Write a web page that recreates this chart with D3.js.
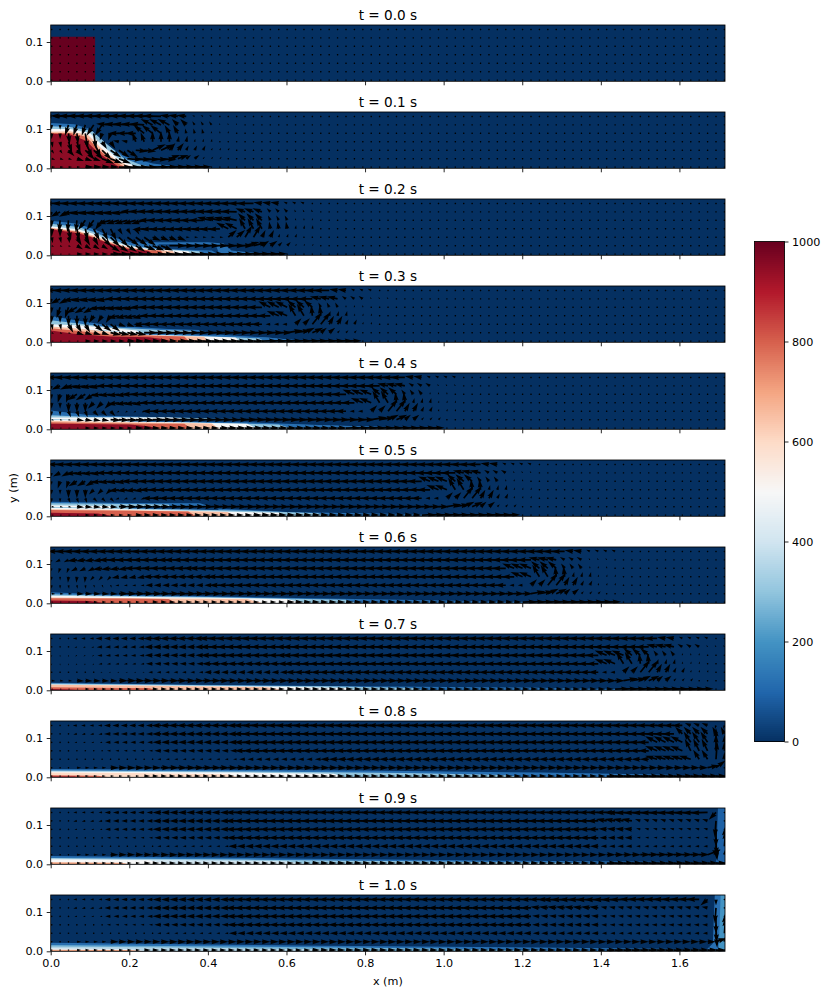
<!DOCTYPE html>
<html>
<head>
<meta charset="utf-8">
<script src="https://cdnjs.cloudflare.com/ajax/libs/d3/7.8.5/d3.min.js"></script>
<style>
  body { margin: 0; background: #fff; }
  text { font-family: "DejaVu Sans", sans-serif; fill: #000; }
</style>
</head>
<body>
<div id="chart"></div>
<script>
// Dam break snapshots: density field (kg/m3) with velocity arrows on top

var times = [0.0, 0.1, 0.2, 0.3, 0.4, 0.5, 0.6, 0.7, 0.8, 0.9, 1.0];
var xTicks = [0, 0.2, 0.4, 0.6, 0.8, 1.0, 1.2, 1.4, 1.6];
var yTicks = [0, 0.1];
var barTicks = [0, 200, 400, 600, 800, 1000];
var rdbu = ["#053061", "#2166ac", "#4393c3", "#92c5de", "#d1e5f0", "#f7f7f7", "#fddbc7", "#f4a582", "#d6604d", "#b2182b", "#67001f"];

// density: [rho, [[x, top of the layer], ...]], painted in order
var density_t00 = [[1000, [[0, 0.1135], [0.113, 0.1135], [0.113, 0]]]];
var density_t01 = [
  [120, [[0, 0.115], [0.06, 0.112], [0.1, 0.1], [0.14, 0.06], [0.19, 0.03], [0.26, 0.012], [0.36, 0]]],
  [300, [[0, 0.107], [0.05, 0.105], [0.105, 0.095], [0.145, 0.06], [0.185, 0.026], [0.225, 0.01], [0.27, 0]]],
  [500, [[0, 0.1], [0.05, 0.1], [0.1, 0.09], [0.135, 0.055], [0.175, 0.022], [0.21, 0.008], [0.24, 0]]],
  [650, [[0, 0.093], [0.05, 0.094], [0.095, 0.085], [0.13, 0.05], [0.165, 0.022], [0.195, 0.008], [0.22, 0]]],
  [800, [[0, 0.09], [0.05, 0.09], [0.09, 0.08], [0.125, 0.045], [0.155, 0.022], [0.18, 0.008], [0.2, 0]]],
  [950, [[0, 0.088], [0.05, 0.086], [0.09, 0.07], [0.12, 0.04], [0.15, 0.02], [0.17, 0.006], [0.185, 0]]]
];
var density_t02 = [
  [120, [[0, 0.088], [0.07, 0.08], [0.11, 0.066], [0.16, 0.046], [0.2, 0.033], [0.26, 0.033], [0.4, 0.033], [0.44, 0.03], [0.46, 0.012], [0.58, 0]]],
  [20, [[0.27, 0], [0.275, 0.028], [0.42, 0.027], [0.43, 0]]],
  [120, [[0.2, 0], [0.25, 0.017], [0.41, 0.012], [0.43, 0]]],
  [300, [[0, 0.08], [0.07, 0.072], [0.11, 0.059], [0.155, 0.04], [0.2, 0.026], [0.25, 0.018], [0.38, 0.01], [0.39, 0]]],
  [500, [[0, 0.074], [0.07, 0.066], [0.11, 0.054], [0.155, 0.036], [0.2, 0.023], [0.25, 0.016], [0.35, 0.01], [0.36, 0]]],
  [650, [[0, 0.07], [0.07, 0.062], [0.11, 0.05], [0.155, 0.033], [0.2, 0.02], [0.25, 0.014], [0.31, 0.011], [0.32, 0]]],
  [800, [[0, 0.068], [0.07, 0.06], [0.11, 0.046], [0.155, 0.03], [0.2, 0.018], [0.25, 0.013], [0.28, 0.012], [0.29, 0]]],
  [950, [[0, 0.066], [0.07, 0.056], [0.11, 0.044], [0.155, 0.028], [0.2, 0.015], [0.25, 0.011], [0.26, 0]]]
];
var density_t03 = [
  [120, [[0, 0.067], [0.06, 0.057], [0.15, 0.043], [0.3, 0.034], [0.38, 0.031], [0.42, 0.02], [0.55, 0.012], [0.62, 0.006], [0.8, 0]]],
  [300, [[0, 0.056], [0.06, 0.049], [0.15, 0.038], [0.28, 0.031], [0.36, 0.029], [0.38, 0]]],
  [500, [[0, 0.046], [0.08, 0.043], [0.18, 0.034], [0.22, 0.03], [0.24, 0]]],
  [20, [[0.22, 0], [0.24, 0.026], [0.38, 0.025], [0.42, 0.02], [0.43, 0]]],
  [120, [[0.22, 0], [0.24, 0.024], [0.42, 0.018], [0.55, 0.012], [0.62, 0.006], [0.63, 0]]],
  [300, [[0, 0.035], [0.15, 0.03], [0.24, 0.02], [0.35, 0.017], [0.53, 0.01], [0.55, 0]]],
  [500, [[0, 0.034], [0.15, 0.028], [0.24, 0.019], [0.47, 0.012], [0.485, 0]]],
  [650, [[0, 0.04], [0.06, 0.036], [0.15, 0.027], [0.25, 0.018], [0.39, 0.014], [0.405, 0]]],
  [800, [[0, 0.036], [0.06, 0.03], [0.15, 0.02], [0.25, 0.017], [0.34, 0.015], [0.355, 0]]],
  [950, [[0, 0.03], [0.06, 0.022], [0.15, 0.015], [0.25, 0.013], [0.29, 0.008], [0.31, 0]]]
];
var density_t04 = [
  [120, [[0, 0.048], [0.1, 0.036], [0.3, 0.03], [0.48, 0.027], [0.5, 0.015], [0.85, 0.006], [1.0, 0]]],
  [300, [[0, 0.036], [0.1, 0.031], [0.3, 0.03], [0.4, 0.028], [0.42, 0]]],
  [500, [[0, 0.03], [0.3, 0.03], [0.33, 0.028], [0.34, 0]]],
  [20, [[0.14, 0], [0.2, 0.022], [0.3, 0.025], [0.5, 0.025], [0.52, 0]]],
  [120, [[0.14, 0], [0.2, 0.02], [0.5, 0.018], [0.7, 0.01], [0.85, 0.006], [0.86, 0]]],
  [300, [[0, 0.026], [0.2, 0.02], [0.35, 0.018], [0.58, 0.012], [0.62, 0]]],
  [500, [[0, 0.024], [0.2, 0.019], [0.3, 0.018], [0.5, 0.014], [0.53, 0]]],
  [650, [[0, 0.022], [0.2, 0.018], [0.41, 0.015], [0.43, 0]]],
  [800, [[0, 0.018], [0.2, 0.015], [0.34, 0.014], [0.36, 0]]],
  [950, [[0, 0.014], [0.2, 0.012], [0.25, 0.008], [0.28, 0]]]
];
var density_t05 = [
  [120, [[0, 0.037], [0.2, 0.034], [0.38, 0.033], [0.42, 0.02], [0.6, 0.011], [0.9, 0.006], [1.22, 0]]],
  [300, [[0, 0.033], [0.2, 0.031], [0.3, 0.03], [0.32, 0]]],
  [500, [[0, 0.028], [0.15, 0.026], [0.17, 0]]],
  [20, [[0.18, 0], [0.2, 0.024], [0.42, 0.026], [0.44, 0]]],
  [120, [[0.18, 0], [0.2, 0.021], [0.42, 0.016], [0.6, 0.011], [0.61, 0]]],
  [300, [[0, 0.024], [0.2, 0.02], [0.5, 0.014], [0.68, 0.008], [0.7, 0]]],
  [500, [[0, 0.022], [0.15, 0.019], [0.4, 0.013], [0.58, 0.009], [0.6, 0]]],
  [650, [[0, 0.018], [0.2, 0.016], [0.45, 0.011], [0.47, 0]]],
  [800, [[0, 0.016], [0.2, 0.014], [0.35, 0.012], [0.37, 0]]],
  [950, [[0, 0.009], [0.12, 0.007], [0.16, 0]]]
];
var density_t06 = [
  [120, [[0, 0.028], [0.15, 0.022], [0.4, 0.018], [0.7, 0.012], [1.0, 0.007], [1.43, 0]]],
  [300, [[0, 0.023], [0.15, 0.019], [0.4, 0.016], [0.75, 0.009], [0.78, 0]]],
  [500, [[0, 0.019], [0.15, 0.017], [0.4, 0.014], [0.6, 0.011], [0.65, 0]]],
  [650, [[0, 0.0145], [0.2, 0.013], [0.5, 0.011], [0.54, 0]]],
  [800, [[0, 0.0127], [0.2, 0.012], [0.3, 0.011], [0.32, 0]]],
  [950, [[0, 0.007], [0.1, 0.006], [0.14, 0]]]
];
var density_t07 = [
  [120, [[0, 0.019], [0.3, 0.015], [0.7, 0.011], [1.2, 0.007], [1.65, 0]]],
  [300, [[0, 0.017], [0.3, 0.014], [0.7, 0.01], [0.92, 0.006], [0.95, 0]]],
  [500, [[0, 0.015], [0.2, 0.013], [0.6, 0.009], [0.75, 0.006], [0.78, 0]]],
  [650, [[0, 0.014], [0.2, 0.012], [0.55, 0.008], [0.6, 0]]],
  [800, [[0, 0.008], [0.18, 0.006], [0.25, 0.006], [0.27, 0]]],
  [950, [[0, 0.003], [0.05, 0.002], [0.08, 0]]]
];
var density_t08 = [
  [120, [[0, 0.021], [0.8, 0.017], [1.25, 0.012], [1.5, 0.008], [1.7, 0.004], [1.716, 0.004]]],
  [300, [[0, 0.017], [0.5, 0.015], [0.9, 0.011], [1.15, 0.006], [1.2, 0]]],
  [500, [[0, 0.0145], [0.5, 0.012], [0.72, 0.009], [0.75, 0]]],
  [600, [[0, 0.012], [0.2, 0.011], [0.45, 0.008], [0.48, 0]]],
  [800, [[0, 0.005], [0.12, 0.004], [0.15, 0]]],
  [950, [[0, 0.002], [0.06, 0.002], [0.07, 0]]]
];
var density_t09 = [
  [120, [[0, 0.021], [0.6, 0.015], [1.2, 0.009], [1.68, 0.005], [1.716, 0.004]]],
  [90, [[1.693, 0], [1.698, 0.143], [1.716, 0.143]]],
  [300, [[0, 0.016], [0.5, 0.012], [0.9, 0.008], [1.3, 0.004], [1.4, 0]]],
  [400, [[0, 0.014], [0.3, 0.011], [0.6, 0.008], [0.65, 0]]],
  [500, [[0, 0.012], [0.25, 0.01], [0.3, 0]]],
  [700, [[0, 0.005], [0.18, 0.004], [0.2, 0]]]
];
var density_t10 = [
  [120, [[0, 0.022], [0.7, 0.014], [1.3, 0.009], [1.67, 0.005], [1.685, 0.02], [1.69, 0.143], [1.716, 0.143]]],
  [200, [[1.7, 0], [1.705, 0.143], [1.716, 0.143]]],
  [250, [[0, 0.016], [0.6, 0.011], [1.0, 0.007], [1.25, 0.002], [1.3, 0]]],
  [350, [[0, 0.012], [0.4, 0.009], [0.7, 0.005], [0.75, 0]]],
  [450, [[0, 0.008], [0.2, 0.006], [0.25, 0]]],
  [700, [[0, 0.004], [0.2, 0.003], [0.24, 0]]]
];

// velocity rows from the floor up, each row runs of [columns, u, v] in m/s; columns past the last run are at rest
var quiver_t00 = [[], [], [], [], [], [], []];
var quiver_t01 = [
  [[4, 0.3, 0], [4, 0.7, 0], [4, 1.1, 0], [6, 1.4, 0.03]],
  [[3, 0.3, -0.1], [3, 0.6, -0.2], [3, 1, -0.4], [5, 1.3, -0.1], [2, 0.9, 0.3], [2, 0.4, 0.3], [3, 0.15, 0.15], [3, 0.05, 0.1]],
  [[2, 0.2, -0.3], [2, 0.5, -0.5], [3, 0.8, -0.8], [3, 0.9, -0.6], [2, 1, -0.1], [2, 1.1, 0.5], [2, 0.5, 0.6], [3, 0.2, 0.4], [3, 0.1, 0.2]],
  [[2, 0.1, -0.5], [2, 0.3, -0.9], [2, 0.6, -1.3], [2, 0.4, -0.6], [2, -0.5, 0.1], [2, -0.3, 0.8], [3, 0, 0.9], [2, 0.1, 0.5], [3, 0.05, 0.25], [3, 0.02, 0.12]],
  [[2, 0, -0.5], [2, 0.1, -0.9], [2, 0.2, -1.3], [2, -0.2, -0.6], [3, -0.9, 0], [3, -0.9, 0.7], [2, -0.4, 0.7], [3, -0.1, 0.4], [3, 0, 0.2]],
  [[2, 0, -0.4], [3, -0.3, -0.9], [2, -0.6, -0.9], [5, -1.2, 0.1], [3, -1, 0.5], [2, -0.5, 0.5], [3, -0.2, 0.3], [3, -0.05, 0.15]],
  [[2, -0.6, 0], [12, -1.5, 0.05], [3, -0.8, 0.1], [3, -0.2, 0.1], [2, -0.05, 0.1]]
];
var quiver_t02 = [
  [[3, 0.2, 0], [4, 0.5, 0], [5, 0.9, 0], [8, 1.1, 0], [7, 1.4, 0.03]],
  [[3, 0.2, -0.1], [4, 0.5, -0.3], [4, 0.8, -0.5], [3, 1, -0.4], [9, 1.4, 0], [2, 1.2, 0.3], [2, 0.6, 0.4], [2, 0.3, 0.3], [3, 0.1, 0.15]],
  [[3, 0.1, -0.5], [3, 0.4, -0.7], [3, 0.8, -0.8], [3, 1, -0.7], [4, 0.7, -0.3], [5, 0.3, 0], [2, 0.7, 0.6], [2, 0.6, 1], [2, 0.3, 0.6], [3, 0.1, 0.3]],
  [[2, 0, -0.7], [3, 0.2, -1], [3, 0.5, -1], [3, 0.3, -0.5], [10, -1, -0.05], [2, -1, 0.5], [3, -0.5, 0.9], [3, -0.1, 0.6], [3, 0.05, 0.3]],
  [[1, 0, -0.6], [3, -0.1, -1], [3, -0.6, -0.8], [5, -1.1, -0.3], [7, -1.2, 0], [4, -1.2, 0.25], [3, -0.6, 0.6], [3, -0.2, 0.4], [3, 0, 0.2]],
  [[1, -0.1, -0.4], [2, -0.8, -0.4], [7, -1.3, -0.15], [13, -1.3, 0.05], [3, -0.8, 0.3], [3, -0.3, 0.3], [3, -0.1, 0.2]],
  [[1, -0.5, 0], [24, -1.4, 0], [3, -0.7, 0.1], [3, -0.3, 0.15]]
];
var quiver_t03 = [
  [[4, 0.2, 0], [5, 0.5, 0], [6, 0.7, 0], [10, 0.9, 0], [11, 1.3, 0.03]],
  [[3, 0.2, -0.1], [4, 0.6, -0.2], [4, 0.9, -0.2], [17, 1.1, 0], [2, 1.3, 0.2], [2, 0.9, 0.4], [2, 0.5, 0.4], [3, 0.2, 0.2]],
  [[2, 0.1, -0.5], [3, 0.4, -0.7], [3, 0.8, -0.6], [3, 0.6, -0.2], [15, -0.9, 0], [3, -0.4, 0], [2, 0.5, 0.5], [2, 0.8, 1], [2, 0.4, 0.7], [2, 0.2, 0.4], [2, 0.05, 0.2]],
  [[2, 0, -0.6], [3, 0, -0.9], [3, -0.4, -0.6], [4, -1, -0.2], [15, -1.1, 0], [2, -1, 0.4], [2, -0.6, 1], [2, -0.1, 0.9], [3, 0.1, 0.4], [3, 0.05, 0.2]],
  [[1, 0, -0.5], [2, -0.3, -0.9], [3, -0.9, -0.5], [5, -1.1, -0.15], [15, -1.2, 0], [3, -1, 0.5], [3, -0.7, 0.6], [3, -0.2, 0.4], [3, 0, 0.2]],
  [[1, -0.1, -0.4], [2, -0.8, -0.4], [5, -1.2, -0.15], [24, -1.2, 0], [3, -0.9, 0.2], [3, -0.35, 0.25], [3, -0.1, 0.15]],
  [[1, -0.4, 0], [33, -1.3, 0], [2, -0.7, 0.1], [3, -0.3, 0.15]]
];
var quiver_t04 = [
  [[4, 0.2, 0], [6, 0.45, 0], [10, 0.65, 0], [15, 0.8, 0], [11, 1.2, 0.03]],
  [[3, 0.2, -0.05], [4, 0.6, -0.1], [5, 0.9, -0.05], [26, 1, 0], [2, 1.3, 0.2], [2, 0.9, 0.4], [2, 0.5, 0.4], [3, 0.2, 0.2]],
  [[2, 0, -0.4], [3, 0.2, -0.5], [3, 0.4, -0.4], [4, -0.2, -0.1], [24, -0.9, 0], [2, -0.4, 0], [2, 0.5, 0.5], [2, 0.8, 1], [2, 0.4, 0.7], [2, 0.2, 0.4], [3, 0.05, 0.2]],
  [[2, 0, -0.5], [3, 0, -0.8], [3, -0.5, -0.5], [4, -1, -0.15], [25, -1.1, 0], [2, -1, 0.4], [2, -0.6, 1], [2, -0.1, 0.9], [3, 0.1, 0.4], [3, 0.05, 0.2]],
  [[1, 0, -0.4], [2, -0.2, -0.7], [3, -0.8, -0.5], [4, -1, -0.1], [26, -1.2, 0], [3, -1, 0.4], [3, -0.7, 0.6], [3, -0.3, 0.4], [3, 0, 0.2]],
  [[1, 0, -0.3], [2, -0.7, -0.3], [4, -1.1, -0.15], [33, -1.2, 0], [3, -0.9, 0.2], [3, -0.4, 0.25], [3, -0.1, 0.15]],
  [[1, -0.3, 0], [42, -1.2, 0], [2, -0.7, 0.1], [4, -0.3, 0.15]]
];
var quiver_t05 = [
  [[4, 0.2, 0], [6, 0.4, 0], [14, 0.6, 0], [20, 0.7, 0], [11, 1.2, 0.03]],
  [[3, 0.25, -0.05], [5, 0.6, -0.05], [6, 0.8, 0], [33, 0.9, 0], [2, 1.2, 0.2], [2, 0.9, 0.4], [2, 0.5, 0.4], [3, 0.2, 0.2]],
  [[2, 0, -0.35], [3, 0.15, -0.4], [3, 0.3, -0.3], [4, -0.3, -0.1], [33, -0.9, 0], [2, -0.4, 0], [2, 0.5, 0.5], [2, 0.8, 1], [2, 0.4, 0.7], [2, 0.2, 0.4], [3, 0.05, 0.2]],
  [[2, 0, -0.4], [3, 0, -0.7], [3, -0.4, -0.4], [4, -0.9, -0.1], [34, -1.1, 0], [2, -1, 0.4], [2, -0.6, 1], [2, -0.1, 0.9], [3, 0.1, 0.4], [3, 0.05, 0.2]],
  [[1, 0, -0.3], [2, -0.2, -0.6], [3, -0.7, -0.4], [4, -1, -0.1], [35, -1.2, 0], [3, -1, 0.4], [3, -0.7, 0.6], [3, -0.3, 0.4], [3, 0, 0.2]],
  [[1, 0, -0.3], [2, -0.6, -0.3], [4, -1, -0.1], [42, -1.2, 0], [3, -0.9, 0.2], [3, -0.4, 0.25], [3, -0.1, 0.15]],
  [[1, -0.3, 0], [51, -1.1, 0], [2, -0.7, 0.1], [4, -0.3, 0.15]]
];
var quiver_t06 = [
  [[4, 0.15, 0], [8, 0.35, 0], [16, 0.5, 0], [28, 0.65, 0], [11, 1.2, 0.03]],
  [[3, 0.3, -0.03], [5, 0.6, -0.03], [6, 0.8, 0], [43, 0.85, 0], [2, 1.2, 0.2], [2, 0.9, 0.4], [2, 0.5, 0.4], [3, 0.2, 0.2]],
  [[2, 0, -0.3], [3, 0.05, -0.3], [3, 0.1, -0.2], [4, -0.3, -0.05], [8, -0.6, 0], [35, -0.9, 0], [2, -0.4, 0], [2, 0.5, 0.5], [2, 0.8, 1], [2, 0.4, 0.7], [2, 0.2, 0.4], [3, 0.05, 0.2]],
  [[2, 0, -0.3], [3, -0.05, -0.5], [3, -0.3, -0.3], [4, -0.6, -0.1], [8, -0.8, 0], [36, -1.05, 0], [2, -1, 0.4], [2, -0.6, 1], [2, -0.1, 0.9], [3, 0.1, 0.4], [3, 0.05, 0.2]],
  [[1, 0, -0.25], [2, -0.15, -0.4], [3, -0.5, -0.25], [4, -0.8, -0.1], [8, -0.95, 0], [37, -1.15, 0], [3, -1, 0.4], [3, -0.7, 0.6], [3, -0.3, 0.4], [3, 0, 0.2]],
  [[1, 0, -0.2], [2, -0.4, -0.2], [4, -0.8, -0.1], [8, -1, 0], [43, -1.15, 0], [3, -0.9, 0.2], [3, -0.4, 0.25], [3, -0.1, 0.15]],
  [[1, -0.25, 0], [61, -1.1, 0], [2, -0.7, 0.1], [4, -0.3, 0.15]]
];
var quiver_t07 = [
  [[4, 0.15, 0], [8, 0.35, 0], [16, 0.5, 0], [39, 0.6, 0], [11, 1.2, 0.03]],
  [[3, 0.3, -0.02], [5, 0.6, -0.02], [6, 0.75, 0], [54, 0.8, 0], [2, 1.2, 0.2], [2, 0.9, 0.4], [2, 0.5, 0.4], [3, 0.2, 0.2]],
  [[3, 0, -0.1], [3, -0.03, -0.1], [6, -0.15, -0.03], [7, -0.35, 0], [10, -0.6, 0], [37, -0.85, 0], [2, -0.4, 0], [2, 0.5, 0.5], [2, 0.8, 1], [2, 0.4, 0.7], [2, 0.2, 0.4], [3, 0.05, 0.2]],
  [[3, 0, -0.15], [3, -0.1, -0.12], [6, -0.3, -0.03], [7, -0.55, 0], [10, -0.8, 0], [37, -1, 0], [2, -1, 0.4], [2, -0.6, 1], [2, -0.1, 0.9], [3, 0.1, 0.4], [3, 0.05, 0.2]],
  [[3, 0, -0.15], [3, -0.15, -0.1], [6, -0.4, -0.03], [7, -0.65, 0], [10, -0.9, 0], [37, -1.1, 0], [3, -1, 0.4], [3, -0.7, 0.6], [3, -0.3, 0.4], [3, 0, 0.2]],
  [[3, 0, -0.1], [3, -0.2, -0.1], [6, -0.45, -0.03], [7, -0.7, 0], [10, -0.95, 0], [43, -1.1, 0], [3, -0.9, 0.2], [3, -0.4, 0.25], [3, -0.1, 0.15]],
  [[3, -0.1, 0], [3, -0.35, 0], [6, -0.55, 0], [7, -0.8, 0], [54, -1.05, 0], [2, -0.7, 0.1], [4, -0.3, 0.15]]
];
var quiver_t08 = [
  [[3, 0.1, 0], [8, 0.3, 0], [20, 0.5, 0], [35, 0.6, 0], [14, 0.9, 0]],
  [[3, 0.05, 0], [4, 0.35, 0], [6, 0.7, 0], [10, 0.8, 0], [55, 0.75, 0], [1, 1, 0.2], [1, 0.8, 0.6]],
  [[3, 0, -0.05], [4, 0, -0.05], [6, -0.1, 0], [10, -0.3, 0], [10, -0.5, 0], [39, -0.75, 0], [5, -1, 0.3], [2, -0.5, 0.8], [1, 0.1, 1.5], [1, 0, 0.6]],
  [[3, 0, -0.1], [4, -0.1, -0.08], [6, -0.3, 0], [10, -0.55, 0], [49, -0.9, 0], [4, -1, 0.4], [3, -0.5, 1], [1, 0, 1.4], [1, 0, 0.8]],
  [[3, -0.03, -0.1], [4, -0.2, -0.05], [6, -0.45, 0], [10, -0.7, 0], [49, -0.95, 0], [4, -1, 0.5], [3, -0.6, 0.9], [1, 0, 1.2], [1, 0, 0.6]],
  [[3, -0.05, -0.05], [4, -0.3, -0.05], [6, -0.55, 0], [10, -0.75, 0], [52, -1, 0], [4, -0.6, 0.6], [2, -0.3, 0.6]],
  [[3, -0.1, 0], [4, -0.35, 0], [6, -0.55, 0], [10, -0.8, 0], [49, -1, 0], [4, -0.9, 0], [3, -0.5, 0.2], [2, -0.1, -0.3]]
];
var quiver_t09 = [
  [[3, 0.1, 0], [8, 0.35, 0], [20, 0.55, 0], [35, 0.65, 0], [14, 0.9, 0]],
  [[3, 0.05, 0], [4, 0.35, 0], [6, 0.65, 0], [53, 0.7, 0], [4, 0.75, 0], [8, 0.85, 0.02], [1, 1.1, 0.4], [1, 0.3, 0.5], [1, 0.05, 0.4]],
  [[3, 0, -0.05], [4, 0, -0.03], [6, -0.1, 0], [9, -0.3, 0], [44, -0.7, 0], [4, -0.5, 0], [9, -0.35, 0], [1, 0.1, -1.2], [1, 0.1, 1.3]],
  [[3, 0, -0.08], [4, -0.1, -0.05], [6, -0.3, 0], [9, -0.55, 0], [44, -0.85, 0], [4, -0.6, 0], [9, -0.3, 0.05], [1, 0.05, -1.5], [1, 0.05, 0.9]],
  [[3, -0.03, -0.08], [4, -0.2, -0.05], [6, -0.45, 0], [9, -0.7, 0], [44, -0.9, 0], [4, -0.7, 0.05], [9, -0.35, 0.1], [1, 0, -1.5], [1, 0, 0.1]],
  [[3, -0.05, -0.05], [4, -0.3, -0.05], [6, -0.5, 0], [9, -0.7, 0], [44, -0.95, 0], [4, -0.9, 0.15], [9, -0.45, 0.15], [1, -0.1, -1.4], [1, 0, -0.1]],
  [[3, -0.08, 0], [4, -0.3, 0], [6, -0.5, 0], [9, -0.7, 0], [46, -0.95, 0], [11, -1.4, -0.04], [1, -0.6, -0.6]]
];
var quiver_t10 = [
  [[3, 0.1, 0], [8, 0.35, 0], [20, 0.55, 0], [35, 0.65, 0], [14, 0.85, 0]],
  [[3, 0.05, 0], [4, 0.35, 0], [6, 0.65, 0], [9, 0.7, 0], [57, 0.7, 0], [1, 0.9, 0.3], [1, 0.05, 0.4]],
  [[3, 0, -0.05], [4, 0, -0.03], [6, -0.1, 0], [9, -0.3, 0], [36, -0.65, 0], [8, -0.55, 0], [13, -0.4, 0], [1, 0.1, -1.2], [1, 0.1, 1.3]],
  [[3, 0, -0.08], [4, -0.1, -0.05], [6, -0.3, 0], [9, -0.55, 0], [36, -0.8, 0], [8, -0.6, 0], [13, -0.45, 0], [1, 0.05, -1.5], [1, 0.05, 0.9]],
  [[3, -0.03, -0.08], [4, -0.2, -0.05], [6, -0.45, 0], [9, -0.7, 0], [36, -0.85, 0], [8, -0.6, 0.05], [13, -0.45, 0.05], [1, 0, -1.5], [1, 0, 0.1]],
  [[3, -0.05, -0.05], [4, -0.3, -0.05], [6, -0.5, 0], [9, -0.7, 0], [36, -0.9, 0], [8, -0.75, 0.1], [13, -0.5, 0.1], [1, -0.1, -1.3], [1, 0, -0.1]],
  [[3, -0.08, 0], [4, -0.3, 0], [6, -0.5, 0], [9, -0.7, 0], [38, -0.9, 0], [9, -1.15, -0.03], [9, -1.05, 0.02], [1, -0.6, -0.5], [1, 0, -0.5]]
];

var densities = [density_t00, density_t01, density_t02, density_t03, density_t04, density_t05, density_t06, density_t07, density_t08, density_t09, density_t10];
var quivers = [quiver_t00, quiver_t01, quiver_t02, quiver_t03, quiver_t04, quiver_t05, quiver_t06, quiver_t07, quiver_t08, quiver_t09, quiver_t10];

// Layout
var W = 830, H = 995;
var left = 50.7, right = 725;
var firstTop = 25, panelH = 56.3, step = 87;
var nCols = 81, dx = 0.0214, x0 = 0.0025, y0 = 0.003, dy = 0.0215;
var shaft = 1.7; // arrow shaft width, px
var tickFont = 11.2;

var x = d3.scaleLinear().domain([0, 1.716]).range([left, right]);
var y = d3.scaleLinear().domain([0, 0.1433]).range([panelH, 0]);
var speed = d3.scaleLinear().domain([0, 1]).range([0, 12]);
var color = d3.scaleLinear()
  .domain(d3.range(rdbu.length).map(function(i){ return i * 100; }))
  .range(rdbu);

var svg = d3.select("#chart").append("svg").attr("width", W).attr("height", H);

svg.append("defs").append("clipPath").attr("id", "clip")
  .append("rect").attr("x", left).attr("y", 0).attr("width", right - left).attr("height", panelH);

var area = d3.area()
  .x(function(d){ return x(d[0]); })
  .y0(y(0))
  .y1(function(d){ return y(d[1]); });

// Same outline matplotlib gives a quiver arrow: dot, shrunken wedge or full arrow
function arrowPath(len){
  var w = shaft, hl = 5 * w, hal = 4.5 * w, hw = 1.5 * w, sw = 0.5 * w;
  if(len < w){
    var r = w / 2, pts = d3.range(6).map(function(k){
      return [r * Math.cos(k * Math.PI / 3), r * Math.sin(k * Math.PI / 3)];
    });
    return "M" + pts.join("L") + "Z";
  }
  var s = 1, l = len;
  if(len < hl){ s = len / hl; l = hl; }
  var p = [[0, -sw], [l - hal, -sw], [l - hl, -hw], [l, 0], [l - hl, hw], [l - hal, sw], [0, sw]];
  return "M" + p.map(function(q){ return [q[0] * s, q[1] * s]; }).join("L") + "Z";
}

// Unpack the runs of one panel into one record per arrow
function arrowsOf(rows){
  var out = [];
  rows.forEach(function(row, j){
    var i = 0;
    row.forEach(function(run){
      for(var k = 0; k < run[0] && i < nCols; k++, i++){
        out.push({i: i, j: j, u: run[1], v: run[2]});
      }
    });
    for(; i < nCols; i++){ out.push({i: i, j: j, u: 0, v: 0}); }
  });
  return out;
}

var panels = svg.selectAll(".panel").data(times).enter().append("g")
  .attr("class", "panel")
  .attr("transform", function(d, i){ return "translate(0," + (firstTop + i * step) + ")"; });

panels.each(function(t, p){
  var g = d3.select(this);
  var plot = g.append("g").attr("clip-path", "url(#clip)");

  plot.append("rect")
    .attr("x", left).attr("y", 0)
    .attr("width", right - left).attr("height", panelH)
    .attr("fill", color(0));

  plot.selectAll(".layer").data(densities[p]).enter().append("path")
    .attr("class", "layer")
    .attr("d", function(d){ return area(d[1]); })
    .attr("fill", function(d){ return color(d[0]); });

  plot.selectAll(".arrow").data(arrowsOf(quivers[p])).enter().append("path")
    .attr("class", "arrow")
    .attr("d", function(d){ return arrowPath(speed(Math.sqrt(d.u * d.u + d.v * d.v))); })
    .attr("transform", function(d){
      var a = Math.atan2(-d.v, d.u) * 180 / Math.PI;
      return "translate(" + x(x0 + d.i * dx) + "," + y(y0 + d.j * dy) + ") rotate(" + a + ")";
    })
    .attr("fill", "#000");

  var xAxis = d3.axisBottom(x).tickValues(xTicks).tickSize(4).tickSizeOuter(0).tickPadding(3.5)
    .tickFormat(p === times.length - 1 ? d3.format(".1f") : "");
  var yAxis = d3.axisLeft(y).tickValues(yTicks).tickSize(4).tickSizeOuter(0).tickPadding(3.5)
    .tickFormat(d3.format(".1f"));

  var xg = g.append("g").attr("transform", "translate(0," + panelH + ")").call(xAxis);
  var yg = g.append("g").attr("transform", "translate(" + left + ",0)").call(yAxis);
  [xg, yg].forEach(function(a){
    a.select(".domain").remove();
    a.selectAll("line").attr("stroke", "#000").attr("stroke-width", 0.85);
    a.selectAll("text").attr("font-size", tickFont).attr("font-family", "DejaVu Sans");
  });

  g.append("rect")
    .attr("x", left).attr("y", 0)
    .attr("width", right - left).attr("height", panelH)
    .attr("fill", "none").attr("stroke", "#000").attr("stroke-width", 0.85);

  g.append("text")
    .attr("x", (left + right) / 2).attr("y", -5.5)
    .attr("text-anchor", "middle").attr("font-size", 13.6)
    .text("t = " + d3.format(".1f")(t) + " s");
});

svg.append("text")
  .attr("x", (left + right) / 2).attr("y", 985)
  .attr("text-anchor", "middle").attr("font-size", tickFont)
  .text("x (m)");

svg.append("text")
  .attr("transform", "translate(17,488) rotate(-90)")
  .attr("text-anchor", "middle").attr("font-size", tickFont)
  .text("y (m)");

// Colorbar
var barX = 754.5, barW = 30, barTop = 241.5, barH = 500;
var barScale = d3.scaleLinear().domain([0, 1000]).range([barH, 0]);
var bar = svg.append("g").attr("transform", "translate(" + barX + "," + barTop + ")");

bar.selectAll(".cell").data(d3.range(0, 1000, 4)).enter().append("rect")
  .attr("class", "cell")
  .attr("x", 0)
  .attr("y", function(d){ return barScale(d + 4); })
  .attr("width", barW)
  .attr("height", barScale(0) - barScale(4) + 0.5)
  .attr("fill", function(d){ return color(d + 2); });

bar.append("rect")
  .attr("width", barW).attr("height", barH)
  .attr("fill", "none").attr("stroke", "#000").attr("stroke-width", 0.85);

var barAxis = bar.append("g").attr("transform", "translate(" + barW + ",0)")
  .call(d3.axisRight(barScale).tickValues(barTicks).tickFormat(d3.format("d")).tickSize(4).tickSizeOuter(0).tickPadding(3.5));
barAxis.select(".domain").remove();
barAxis.selectAll("line").attr("stroke", "#000").attr("stroke-width", 0.85);
barAxis.selectAll("text").attr("font-size", tickFont).attr("font-family", "DejaVu Sans");
</script>
</body>
</html>
